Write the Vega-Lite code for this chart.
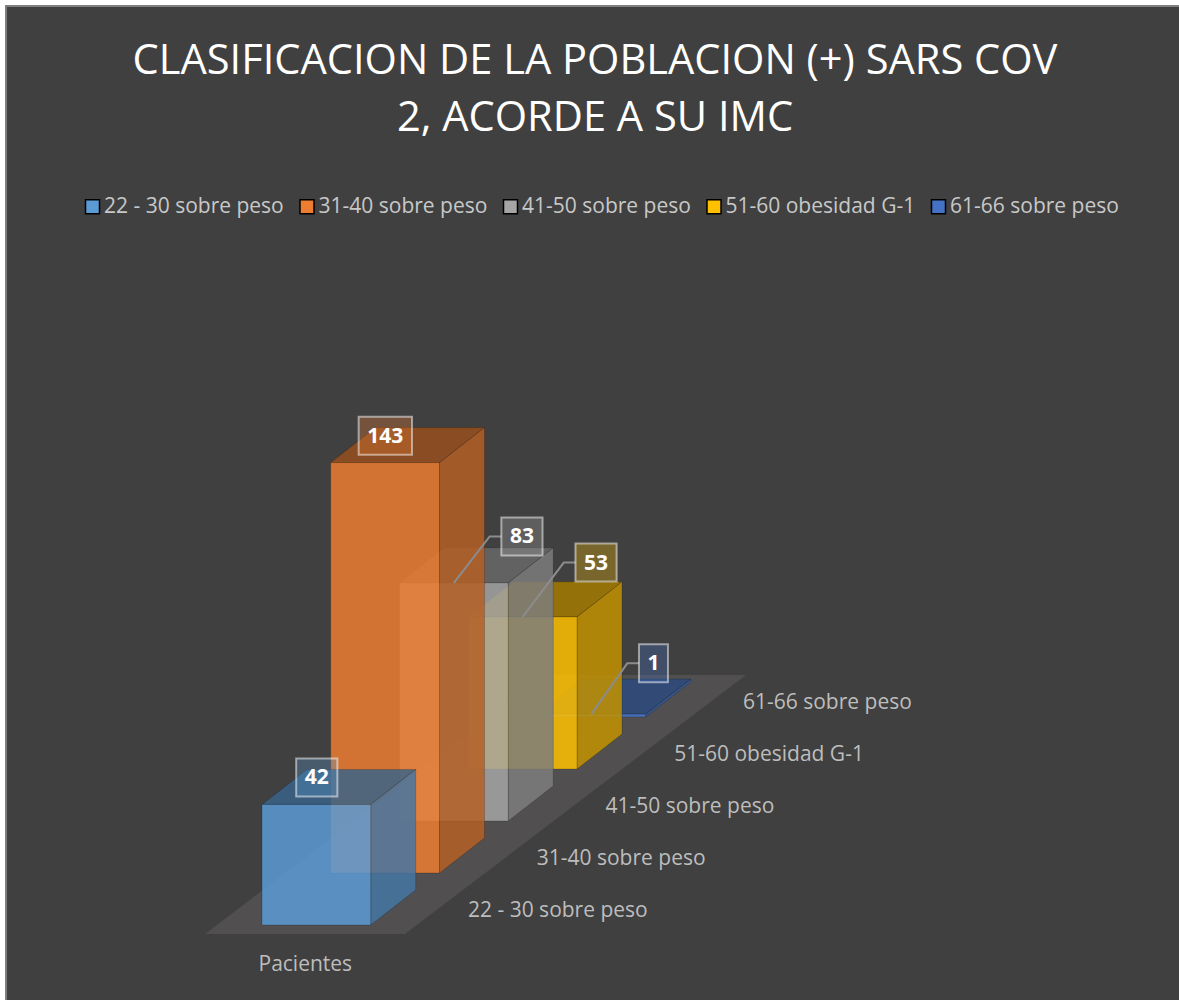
{"$schema":"https://vega.github.io/schema/vega-lite/v6.json","width":1174,"height":995,"autosize":{"type":"none"},"padding":{"left":5,"top":5,"right":0,"bottom":0},"background":"#ffffff","view":{"fill":"#404040","stroke":null},
"title":{"text":["CLASIFICACION DE LA POBLACION (+) SARS COV","2, ACORDE A SU IMC"],"fontSize":41.6,"font":"Open Sans","fontWeight":"normal","color":"#ffffff","anchor":"middle","frame":"group","offset":-28,"dy":107.5,"baseline":"top","lineHeight":57,"dx":3},
"data":{"values":[{"categoria":"61-66 sobre peso","pacientes":1},{"categoria":"51-60 obesidad G-1","pacientes":53},{"categoria":"41-50 sobre peso","pacientes":83},{"categoria":"31-40 sobre peso","pacientes":143},{"categoria":"22 - 30 sobre peso","pacientes":42}]},
"transform":[{"calculate":"indexof(['22 - 30 sobre peso','31-40 sobre peso','41-50 sobre peso','51-60 obesidad G-1','61-66 sobre peso'],datum.categoria)","as":"i"},{"calculate":"18.12*datum.i","as":"base"}],
"encoding":{"x":{"field":"x","type":"quantitative","axis":null,"scale":{"domain":[-3.738,13.338],"nice":false,"zero":false}},"y":{"field":"y","type":"quantitative","axis":null,"scale":{"domain":[-26.13,320.56],"nice":false,"zero":false}}},
"layer":[
{"transform":[{"aggregate":[{"op":"count","as":"n"}]},{"calculate":"-3.7235","as":"x"},{"calculate":"-26.13","as":"y"},{"calculate":"320.56","as":"y2"}],"mark":{"type":"rule","stroke":"#7f7f7f","strokeWidth":2},"encoding":{"y2":{"field":"y2"}}},
{"transform":[{"aggregate":[{"op":"count","as":"n"}]},{"calculate":"-3.738","as":"x"},{"calculate":"13.338","as":"x2"},{"calculate":"320.21","as":"y"}],"mark":{"type":"rule","stroke":"#7f7f7f","strokeWidth":2},"encoding":{"x2":{"field":"x2"}}},
{"transform":[{"aggregate":[{"op":"count","as":"n"}]},{"calculate":"[{x:-0.829,a:-3.136,b:-3.136},{x:2.08,a:-3.136,b:49.8},{x:4.131,a:34.2,b:87.1},{x:7.04,a:87.1,b:87.1}]","as":"v"},{"flatten":["v"]},{"calculate":"datum.v.x","as":"x"},{"calculate":"datum.v.a","as":"y"},{"calculate":"datum.v.b","as":"y2"}],"mark":{"type":"area","orient":"vertical","fill":"#514f4f"},"encoding":{"y2":{"field":"y2"}}},
{"transform":[{"calculate":"[{c:'superior',x:0,a:datum.pacientes,b:datum.pacientes},{c:'superior',x:0.6545,a:datum.pacientes,b:datum.pacientes+12.2},{c:'superior',x:1.582,a:datum.pacientes,b:datum.pacientes+12.2},{c:'superior',x:2.2365,a:datum.pacientes+12.2,b:datum.pacientes+12.2},{c:'lateral',x:1.582,a:0,b:datum.pacientes},{c:'lateral',x:2.2365,a:12.2,b:datum.pacientes+12.2},{c:'frontal',x:0,a:0,b:datum.pacientes},{c:'frontal',x:1.582,a:0,b:datum.pacientes}]","as":"v"},{"flatten":["v"]},{"calculate":"datum.i+datum.v.x","as":"x"},{"calculate":"datum.base+datum.v.a","as":"y"},{"calculate":"datum.base+datum.v.b","as":"y2"},{"calculate":"datum.categoria+'|'+datum.v.c","as":"clave"}],
"mark":{"type":"area","orient":"vertical","fillOpacity":0.85,"stroke":"#000000","strokeOpacity":0.18,"strokeWidth":1},
"encoding":{"y2":{"field":"y2"},"color":{"field":"clave","type":"nominal","scale":{"domain":["22 - 30 sobre peso|frontal","22 - 30 sobre peso|lateral","22 - 30 sobre peso|superior","31-40 sobre peso|frontal","31-40 sobre peso|lateral","31-40 sobre peso|superior","41-50 sobre peso|frontal","41-50 sobre peso|lateral","41-50 sobre peso|superior","51-60 obesidad G-1|frontal","51-60 obesidad G-1|lateral","51-60 obesidad G-1|superior","61-66 sobre peso|frontal","61-66 sobre peso|lateral","61-66 sobre peso|superior"],"range":["#5B9BD5","#4576A2","#3A6388","#ED7D31","#B45F25","#964F1F","#A5A5A5","#7D7D7D","#696969","#FFC000","#C29200","#A37B00","#4472C4","#335795","#2B4A7D"]},
"legend":{"values":["22 - 30 sobre peso|frontal","31-40 sobre peso|frontal","41-50 sobre peso|frontal","51-60 obesidad G-1|frontal","61-66 sobre peso|frontal"],"labelExpr":"split(datum.label,'|')[0]","title":null,"orient":"none","legendX":77,"legendY":191,"direction":"horizontal","columns":5,"columnPadding":12.5,"symbolType":"square","symbolSize":196,"symbolStrokeWidth":1.5,"labelFont":"Open Sans","labelFontSize":21,"labelColor":"#c8c8c8","labelOffset":1,"labelLimit":300,"encoding":{"symbols":{"update":{"fillOpacity":{"value":0.85},"strokeOpacity":{"value":1},"stroke":{"signal":"scale('color',replace(datum.value,'frontal','superior'))"}}}}}}}},
{"transform":[{"calculate":"[0.006,0.003,0.99,1.068,0.903][datum.i]","as":"odx"},{"calculate":"[9.4,9.37,16.13,18.92,17.7][datum.i]","as":"ody"},{"filter":"datum.odx>0.5"},{"calculate":"0.122+0.0887*length(''+datum.pacientes)","as":"hw"},{"calculate":"datum.i+0.791+datum.odx-datum.hw","as":"izq"},{"calculate":"[{x:datum.i+0.791,y:datum.base+datum.pacientes},{x:datum.izq-0.17,y:datum.base+datum.pacientes+datum.ody},{x:datum.izq,y:datum.base+datum.pacientes+datum.ody}]","as":"v"},{"flatten":["v"]},{"calculate":"datum.v.x","as":"x"},{"calculate":"datum.v.y","as":"y"}],"mark":{"type":"line","stroke":"#8c8c8c","strokeWidth":2},"encoding":{"detail":{"field":"categoria"}}},
{"transform":[{"calculate":"[0.006,0.003,0.99,1.068,0.903][datum.i]","as":"odx"},{"calculate":"[9.4,9.37,16.13,18.92,17.7][datum.i]","as":"ody"},{"calculate":"0.122+0.0887*length(''+datum.pacientes)","as":"hw"},{"calculate":"datum.i+0.791+datum.odx-datum.hw","as":"x"},{"calculate":"datum.i+0.791+datum.odx+datum.hw","as":"x2"},{"calculate":"datum.base+datum.pacientes+datum.ody-6.62","as":"y"},{"calculate":"datum.base+datum.pacientes+datum.ody+6.62","as":"y2"},{"calculate":"datum.categoria+'|frontal'","as":"clave"}],"mark":{"type":"rect","fillOpacity":0.3,"stroke":"#ffffff","strokeOpacity":0.5,"strokeWidth":2},"encoding":{"x2":{"field":"x2"},"y2":{"field":"y2"},"color":{"field":"clave","type":"nominal"}}},
{"transform":[{"calculate":"[0.006,0.003,0.99,1.068,0.903][datum.i]","as":"odx"},{"calculate":"[9.4,9.37,16.13,18.92,17.7][datum.i]","as":"ody"},{"calculate":"datum.i+0.791+datum.odx","as":"x"},{"calculate":"datum.base+datum.pacientes+datum.ody","as":"y"}],"mark":{"type":"text","font":"Open Sans","fontWeight":"bold","fontSize":21,"color":"#ffffff","align":"center","baseline":"middle","dy":1},"encoding":{"text":{"field":"pacientes","type":"quantitative"}}},
{"transform":[{"calculate":"datum.i+2.996","as":"x"},{"calculate":"datum.base+4.9","as":"y"}],"mark":{"type":"text","font":"Open Sans","fontSize":21,"color":"#bdbdbd","align":"left","baseline":"middle"},"encoding":{"text":{"field":"categoria","type":"nominal"}}},
{"transform":[{"aggregate":[{"op":"count","as":"n"}]},{"calculate":"'Pacientes'","as":"etiqueta"},{"calculate":"0.63","as":"x"},{"calculate":"-13.9","as":"y"}],"mark":{"type":"text","font":"Open Sans","fontSize":21,"color":"#bdbdbd","align":"center","baseline":"middle"},"encoding":{"text":{"field":"etiqueta","type":"nominal"}}}
]}
